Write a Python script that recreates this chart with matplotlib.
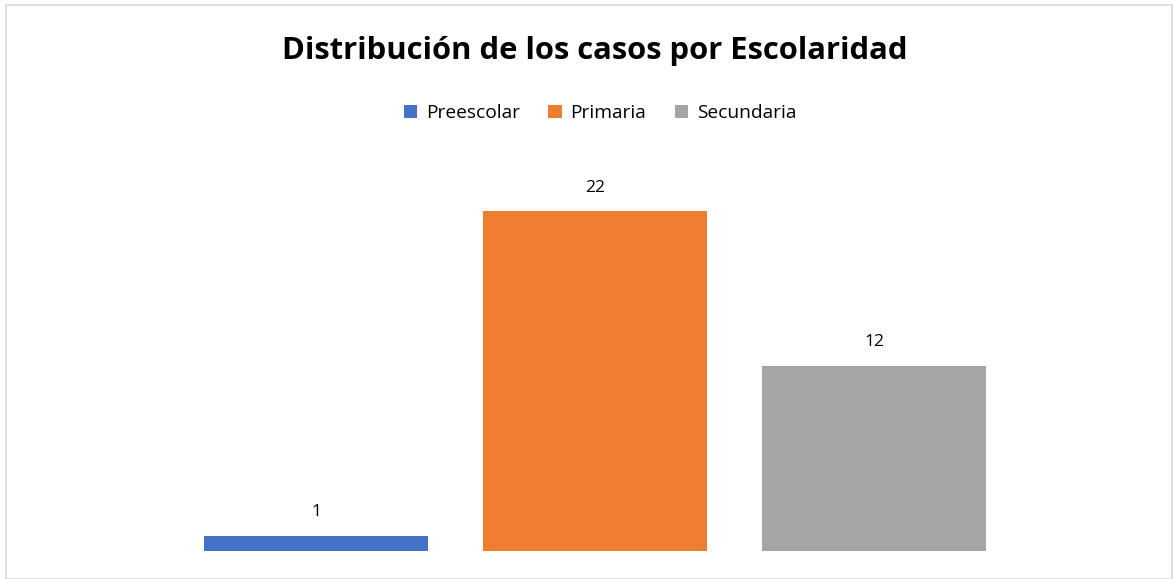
import matplotlib.pyplot as plt
from matplotlib.patches import Rectangle

categories = ['Preescolar', 'Primaria', 'Secundaria']
casos = [1, 22, 12]
colors = ['#4472C4', '#ED7D31', '#A5A5A5']

W, H = 1173, 579
fig = plt.figure(figsize=(W / 100, H / 100), dpi=100)
plt.rcParams['font.family'] = ['Open Sans', 'DejaVu Sans']

# chart border
fig.patches.append(Rectangle((6 / W, 0), (W - 7) / W, (H - 5) / H, transform=fig.transFigure,
                             fill=False, edgecolor='#D9D9D9', linewidth=1.2))

# plot area: baseline at y=551 px, 15.45 px per unit
top_val = 25
ax = fig.add_axes([176.5 / W, (H - 551) / H, 837 / W, top_val * 15.45 / H])
bars = ax.bar(range(len(categories)), casos, width=0.8, color=colors, label=categories)
ax.set_xlim(-0.5, 2.5)
ax.set_ylim(0, top_val)
ax.axis('off')

ax.bar_label(bars, labels=[str(v) for v in casos], padding=11, fontsize=12.5, color='#000000')

fig.text(595 / W, 1 - 51 / H, 'Distribución de los casos por Escolaridad',
         ha='center', va='center', fontsize=22.3, fontweight='bold')

fig.legend(bars, categories, loc='center', bbox_to_anchor=(600 / W, 1 - 113 / H), ncol=3,
           frameon=False, fontsize=13.8, handlelength=0.7, handleheight=0.7,
           handletextpad=0.45, columnspacing=1.5)

fig.savefig('out.png', dpi=100)
